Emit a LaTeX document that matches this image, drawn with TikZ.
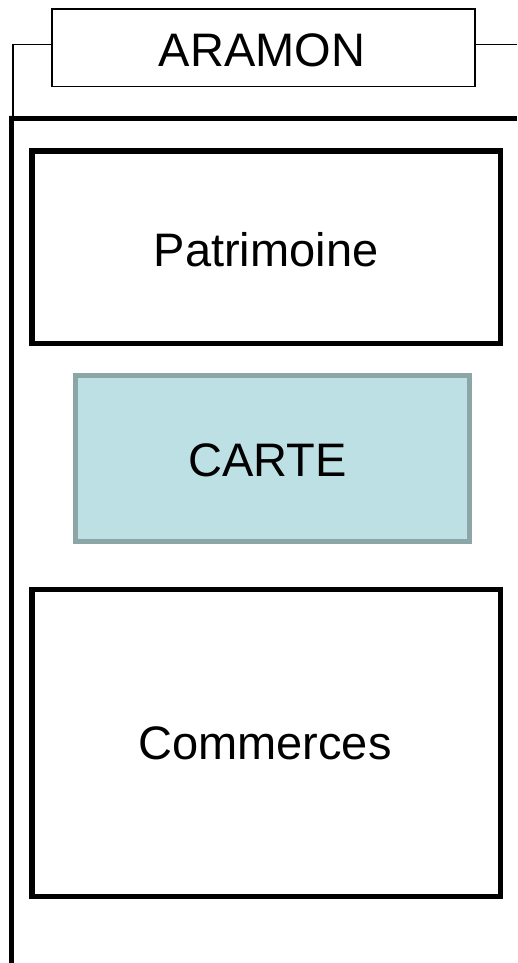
\documentclass[tikz,border=0pt]{standalone}
\usepackage{fontspec}
\setmainfont{Liberation Sans}
\definecolor{cartefill}{HTML}{BCE0E3}
\definecolor{carteline}{HTML}{8CA5A7}
\tikzset{
  thinbox/.style={draw=black, line width=1.6pt, fill=white},
  thickbox/.style={draw=black, line width=5.5pt, fill=white},
  cartebox/.style={draw=carteline, line width=4.5pt, fill=cartefill},
  lbl/.style={font=\fontsize{47}{56}\selectfont, inner sep=0pt},
  thinline/.style={line width=1.6pt},
  thickline/.style={line width=5pt},
}
\begin{document}
\begin{tikzpicture}[x=1pt,y=-1pt]
\useasboundingbox (0,0) rectangle (517,963);
% frame
\coordinate (fcorner) at (11.5,118.3);
\coordinate (fbottom) at (11.5,963);
\coordinate (fright) at (517,118.3);
\draw[thickline] (fbottom) -- (11.5,116) -- (fcorner);
\draw[thickline] (9,118.3) -- (fright);
% title box
\draw[thinbox] (51.7,9) rectangle (474.7,86.7);
\node[lbl] (aramon) at (262,50) {ARAMON};
\coordinate (tl) at (51.7,44.5);
\coordinate (tr) at (474.7,44.5);
\coordinate (tcorner) at (13,44.5);
\coordinate (tdown) at (13,116);
\coordinate (tend) at (517,44.5);
\draw[thinline] (tl) -- (tcorner) -- (tdown);
\draw[thinline] (tr) -- (tend);
% boxes
\draw[thickbox] (32,151) rectangle (500.5,343.7);
\node[lbl] (patrimoine) at (266,250) {Patrimoine};
\draw[cartebox] (75.5,375.5) rectangle (469.5,541.5);
\node[lbl] (carte) at (267.5,460) {CARTE};
\draw[thickbox] (32,589.3) rectangle (500.5,896.5);
\node[lbl] (commerces) at (265,743.5) {Commerces};
\end{tikzpicture}
\end{document}
